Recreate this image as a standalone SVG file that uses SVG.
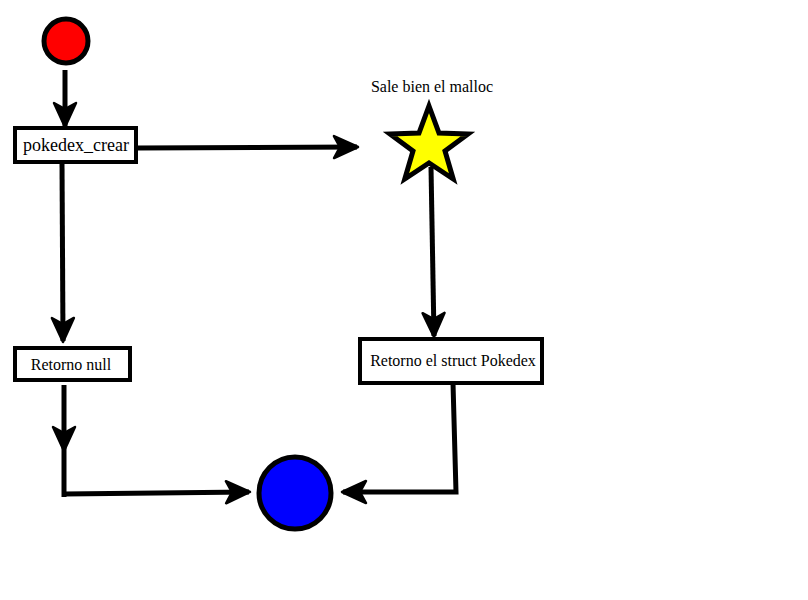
<svg xmlns="http://www.w3.org/2000/svg" width="808" height="600" viewBox="0 0 808 600">
<style>
.box{fill:#fff;stroke:#000;stroke-width:4}
.lbl{font-family:"Liberation Serif",serif;fill:#000;text-anchor:middle;dominant-baseline:central}
.con{fill:none;stroke:#000;stroke-width:5}
</style>
<defs>
<marker id="ah" markerUnits="userSpaceOnUse" viewBox="-30 -15 36 30" refX="0" refY="0" markerWidth="36" markerHeight="30" orient="auto" overflow="visible">
<path d="M1,0 L-23,-11 L-17,0 L-23,11 Z" fill="#000" stroke="#000" stroke-width="2.5" stroke-linejoin="round"/>
</marker>
</defs>
<rect width="808" height="600" fill="#fff"/>
<g id="connectors">
<path class="con" d="M65,70 L65,126" marker-end="url(#ah)"/>
<path class="con" d="M137,148 L357,147" marker-end="url(#ah)"/>
<path class="con" d="M431,167 L434,336" marker-end="url(#ah)"/>
<path class="con" d="M62,162 L63,341" marker-end="url(#ah)"/>
<path class="con" d="M64,385 L64,450" marker-end="url(#ah)"/>
<path class="con" d="M64,450 L64,497"/>
<path class="con" d="M64,494 L249,492" marker-end="url(#ah)"/>
<path class="con" d="M453,383 L456,492 L343,492" marker-end="url(#ah)"/>
</g>
<g id="start">
<circle cx="66" cy="41" r="22" fill="#f00" stroke="#000" stroke-width="5"/>
</g>
<g id="pokedex_crear">
<rect class="box" x="15" y="128" width="121" height="34"/>
<text class="lbl" x="76" y="145" font-size="18">pokedex_crear</text>
</g>
<g id="malloc">
<polygon points="429,106 439,133 468,134 445,151 453.2,179 429,163 404.8,179 413,151 390,134 419,133" fill="#ff0" stroke="#000" stroke-width="5" stroke-linejoin="miter"/>
<text class="lbl" x="432" y="86" font-size="16">Sale bien el malloc</text>
</g>
<g id="retorno_struct">
<rect class="box" x="360" y="339" width="182" height="44"/>
<text class="lbl" x="453" y="360" font-size="16">Retorno el struct Pokedex</text>
</g>
<g id="retorno_null">
<rect class="box" x="15" y="348" width="115" height="32"/>
<text class="lbl" x="71" y="364" font-size="16">Retorno null</text>
</g>
<g id="end">
<circle cx="295" cy="493" r="36" fill="#00f" stroke="#000" stroke-width="5"/>
</g>
</svg>
